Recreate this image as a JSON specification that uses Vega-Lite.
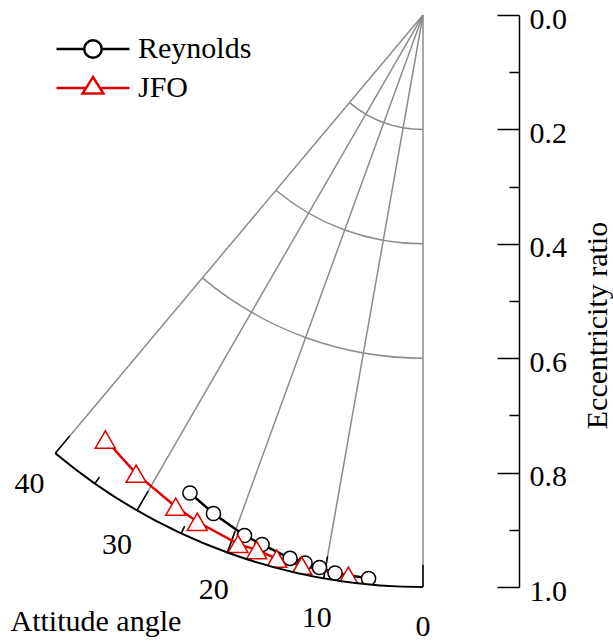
{
  "$schema": "https://vega.github.io/schema/vega-lite/v6.json",
  "width": 519,
  "height": 572,
  "autosize": {"type": "none"},
  "padding": {"left": 0, "top": 15, "right": 94, "bottom": 54},
  "background": "white",
  "config": {
    "view": {"stroke": null},
    "font": "Liberation Serif",
    "axis": {"grid": false, "labelFont": "Liberation Serif", "titleFont": "Liberation Serif", "labelColor": "black", "titleColor": "black", "labelFontSize": 30, "titleFontSize": 30, "titleFontWeight": "normal", "domainColor": "black", "tickColor": "black"}
  },
  "datasets": {
    "series": [
      {"model": "Reynolds", "angle": 25.99, "e": 0.9297},
      {"model": "Reynolds", "angle": 22.8, "e": 0.9453},
      {"model": "Reynolds", "angle": 18.93, "e": 0.962},
      {"model": "Reynolds", "angle": 16.91, "e": 0.9675},
      {"model": "Reynolds", "angle": 13.75, "e": 0.978},
      {"model": "Reynolds", "angle": 12.15, "e": 0.98},
      {"model": "Reynolds", "angle": 10.61, "e": 0.9827},
      {"model": "Reynolds", "angle": 8.96, "e": 0.9876},
      {"model": "Reynolds", "angle": 5.52, "e": 0.9897},
      {"model": "JFO", "angle": 36.81, "e": 0.927},
      {"model": "JFO", "angle": 32.02, "e": 0.9458},
      {"model": "JFO", "angle": 26.7, "e": 0.9622},
      {"model": "JFO", "angle": 24.01, "e": 0.9698},
      {"model": "JFO", "angle": 19.28, "e": 0.9797},
      {"model": "JFO", "angle": 17.27, "e": 0.9795},
      {"model": "JFO", "angle": 15.06, "e": 0.9843},
      {"model": "JFO", "angle": 12.42, "e": 0.9858},
      {"model": "JFO", "angle": 7.59, "e": 0.989}
    ],
    "gridArcs": [{"e": 0.2}, {"e": 0.4}, {"e": 0.6}],
    "radials": [{"angle": 0}, {"angle": 10}, {"angle": 20}, {"angle": 30}, {"angle": 40}],
    "minor": [{"angle": 5}, {"angle": 15}, {"angle": 25}, {"angle": 35}],
    "one": [{"part": "boundary"}]
  },
  "layer": [
    {
      "encoding": {
        "x": {"datum": 0, "type": "quantitative", "title": "Attitude angle", "scale": {"domain": [-0.73951, 0.16783], "nice": false, "zero": false}},
        "y": {"datum": 0, "type": "quantitative", "title": "Eccentricity ratio", "scale": {"domain": [0, 1], "nice": false, "zero": false, "reverse": true}}
      },
      "layer": [
        {
          "data": {"name": "gridArcs"},
          "mark": {"type": "arc", "filled": false, "stroke": "#8c8c8c", "strokeWidth": 1.5},
          "encoding": {
            "theta": {"datum": 0, "type": "quantitative", "scale": {"domain": [0, 360], "range": [3.14159265, 9.42477796]}},
            "theta2": {"datum": 40},
            "radius": {"field": "e", "type": "quantitative", "scale": {"type": "linear", "domain": [0, 1], "range": [0, 572], "zero": true}},
            "radius2": {"field": "e"}
          }
        },
        {
          "data": {"name": "radials"},
          "mark": {"type": "arc", "filled": false, "stroke": "#8c8c8c", "strokeWidth": 1.5},
          "encoding": {
            "theta": {"field": "angle", "type": "quantitative", "stack": null, "scale": {"domain": [0, 360], "range": [3.14159265, 9.42477796]}},
            "theta2": {"field": "angle"},
            "radius": {"datum": 0, "type": "quantitative", "scale": {"type": "linear", "domain": [0, 1], "range": [0, 572], "zero": true}},
            "radius2": {"datum": 1}
          }
        },
        {
          "data": {"name": "radials"},
          "mark": {"type": "arc", "filled": false, "stroke": "black", "strokeWidth": 1.5},
          "encoding": {
            "theta": {"field": "angle", "type": "quantitative", "stack": null, "scale": {"domain": [0, 360], "range": [3.14159265, 9.42477796]}},
            "theta2": {"field": "angle"},
            "radius": {"datum": 0.961, "type": "quantitative", "scale": {"type": "linear", "domain": [0, 1], "range": [0, 572], "zero": true}},
            "radius2": {"datum": 1}
          }
        },
        {
          "data": {"name": "minor"},
          "mark": {"type": "arc", "filled": false, "stroke": "black", "strokeWidth": 1.5},
          "encoding": {
            "theta": {"field": "angle", "type": "quantitative", "stack": null, "scale": {"domain": [0, 360], "range": [3.14159265, 9.42477796]}},
            "theta2": {"field": "angle"},
            "radius": {"datum": 0.986, "type": "quantitative", "scale": {"type": "linear", "domain": [0, 1], "range": [0, 572], "zero": true}},
            "radius2": {"datum": 1}
          }
        }
      ]
    },
    {
      "data": {"name": "series"},
      "transform": [
        {"calculate": "-datum.e*sin(datum.angle*PI/180)", "as": "ex"},
        {"calculate": "datum.e*cos(datum.angle*PI/180)", "as": "ey"}
      ],
      "mark": {"type": "line", "strokeWidth": 2.5},
      "encoding": {
        "x": {"field": "ex", "type": "quantitative", "scale": {"domain": [-0.73951, 0.16783], "nice": false, "zero": false},
          "axis": {"title": "Attitude angle", "domain": false, "ticks": false, "labels": false, "titleAnchor": "start", "titleAlign": "left", "titleX": 10, "titlePadding": 19, "titleBaseline": "top"}},
        "y": {"field": "ey", "type": "quantitative", "scale": {"domain": [0, 1], "nice": false, "zero": false, "reverse": true},
          "axis": {"title": "Eccentricity ratio", "orient": "right", "values": [0, 0.1, 0.2, 0.3, 0.4, 0.5, 0.6, 0.7, 0.8, 0.9, 1], "format": ".1f",
            "labelExpr": "round(datum.value*10) % 2 == 0 ? datum.label : ''",
            "tickSize": {"condition": {"test": "round(datum.value*10) % 2 == 1", "value": -10}, "value": -22},
            "labelPadding": 32, "labelOffset": 4, "domainWidth": 1.5, "tickWidth": 1.5, "labelBaseline": "middle", "labelFlush": false, "labelOverlap": false,
            "titleAngle": 270, "titlePadding": 46, "titleY": 310}},
        "color": {"field": "model", "type": "nominal", "scale": {"domain": ["Reynolds", "JFO"], "range": ["black", "#e00000"]},
          "legend": {"orient": "none", "legendX": 72, "legendY": 13, "title": null, "symbolSize": 1521, "symbolStrokeWidth": 2.5, "labelFont": "Liberation Serif", "labelFontSize": 30, "labelColor": "black", "labelOffset": 24, "rowPadding": 3,
            "encoding": {"symbols": {"shape": {"value": {"expr": "datum.value == 'Reynolds' ? 'M-1.872,0L-0.449,0M0.449,0L1.872,0M0.449,0A0.449,0.449,0,1,1,-0.449,0A0.449,0.449,0,1,1,0.449,0Z' : 'M-1.872,0L-0.355,0M0.355,0L1.872,0M0,-0.5615L-0.533,0.281L0.533,0.281Z'"}}, "fill": {"value": "white"}, "strokeWidth": {"value": 2.5}, "opacity": {"value": 1}}}}}
      }
    },
    {
      "data": {"name": "series"},
      "transform": [
        {"calculate": "-datum.e*sin(datum.angle*PI/180)", "as": "ex"},
        {"calculate": "datum.e*cos(datum.angle*PI/180)", "as": "ey"}
      ],
      "mark": {"type": "point", "filled": false, "fill": "white", "strokeWidth": 1.5, "opacity": 1, "size": 200},
      "encoding": {
        "x": {"field": "ex", "type": "quantitative", "title": "Attitude angle", "scale": {"domain": [-0.73951, 0.16783], "nice": false, "zero": false}},
        "y": {"field": "ey", "type": "quantitative", "title": "Eccentricity ratio", "scale": {"domain": [0, 1], "nice": false, "zero": false, "reverse": true}},
        "color": {"field": "model", "type": "nominal", "scale": {"domain": ["Reynolds", "JFO"], "range": ["black", "#e00000"]},
          "legend": {"orient": "none", "legendX": 72, "legendY": 13, "title": null, "symbolSize": 1521, "symbolStrokeWidth": 2.5, "labelFont": "Liberation Serif", "labelFontSize": 30, "labelColor": "black", "labelOffset": 24, "rowPadding": 3,
            "encoding": {"symbols": {"shape": {"value": {"expr": "datum.value == 'Reynolds' ? 'M-1.872,0L-0.449,0M0.449,0L1.872,0M0.449,0A0.449,0.449,0,1,1,-0.449,0A0.449,0.449,0,1,1,0.449,0Z' : 'M-1.872,0L-0.355,0M0.355,0L1.872,0M0,-0.5615L-0.533,0.281L0.533,0.281Z'"}}, "fill": {"value": "white"}, "strokeWidth": {"value": 2.5}, "opacity": {"value": 1}}}}},
        "shape": {"field": "model", "type": "nominal", "scale": {"range": ["M0,-1.2247L-1.4142,1.2247L1.4142,1.2247Z", "circle"]}, "legend": null}
      }
    },
    {
      "encoding": {
        "x": {"datum": 0, "type": "quantitative", "title": "Attitude angle", "scale": {"domain": [-0.73951, 0.16783], "nice": false, "zero": false}},
        "y": {"datum": 0, "type": "quantitative", "title": "Eccentricity ratio", "scale": {"domain": [0, 1], "nice": false, "zero": false, "reverse": true}}
      },
      "layer": [
        {
          "data": {"name": "one"},
          "mark": {"type": "arc", "fill": "white", "strokeWidth": 0},
          "encoding": {
            "theta": {"datum": -3, "type": "quantitative", "scale": {"domain": [0, 360], "range": [3.14159265, 9.42477796]}},
            "theta2": {"datum": 43},
            "radius": {"datum": 1.001, "type": "quantitative", "scale": {"type": "linear", "domain": [0, 1], "range": [0, 572], "zero": true}},
            "radius2": {"datum": 1.06}
          }
        },
        {
          "data": {"name": "one"},
          "mark": {"type": "arc", "filled": false, "stroke": "black", "strokeWidth": 2},
          "encoding": {
            "theta": {"datum": 0, "type": "quantitative", "scale": {"domain": [0, 360], "range": [3.14159265, 9.42477796]}},
            "theta2": {"datum": 40},
            "radius": {"datum": 1, "type": "quantitative", "scale": {"type": "linear", "domain": [0, 1], "range": [0, 572], "zero": true}},
            "radius2": {"datum": 1}
          }
        },
        {
          "data": {"name": "radials"},
          "mark": {"type": "text", "font": "Liberation Serif", "fontSize": 30, "align": "center", "baseline": "middle", "color": "black"},
          "encoding": {
            "theta": {"field": "angle", "type": "quantitative", "stack": null, "scale": {"domain": [0, 360], "range": [3.14159265, 9.42477796]}},
            "radius": {"datum": 1.07, "type": "quantitative", "scale": {"type": "linear", "domain": [0, 1], "range": [0, 572], "zero": true}},
            "text": {"field": "angle", "type": "quantitative"}
          }
        }
      ]
    }
  ]
}
